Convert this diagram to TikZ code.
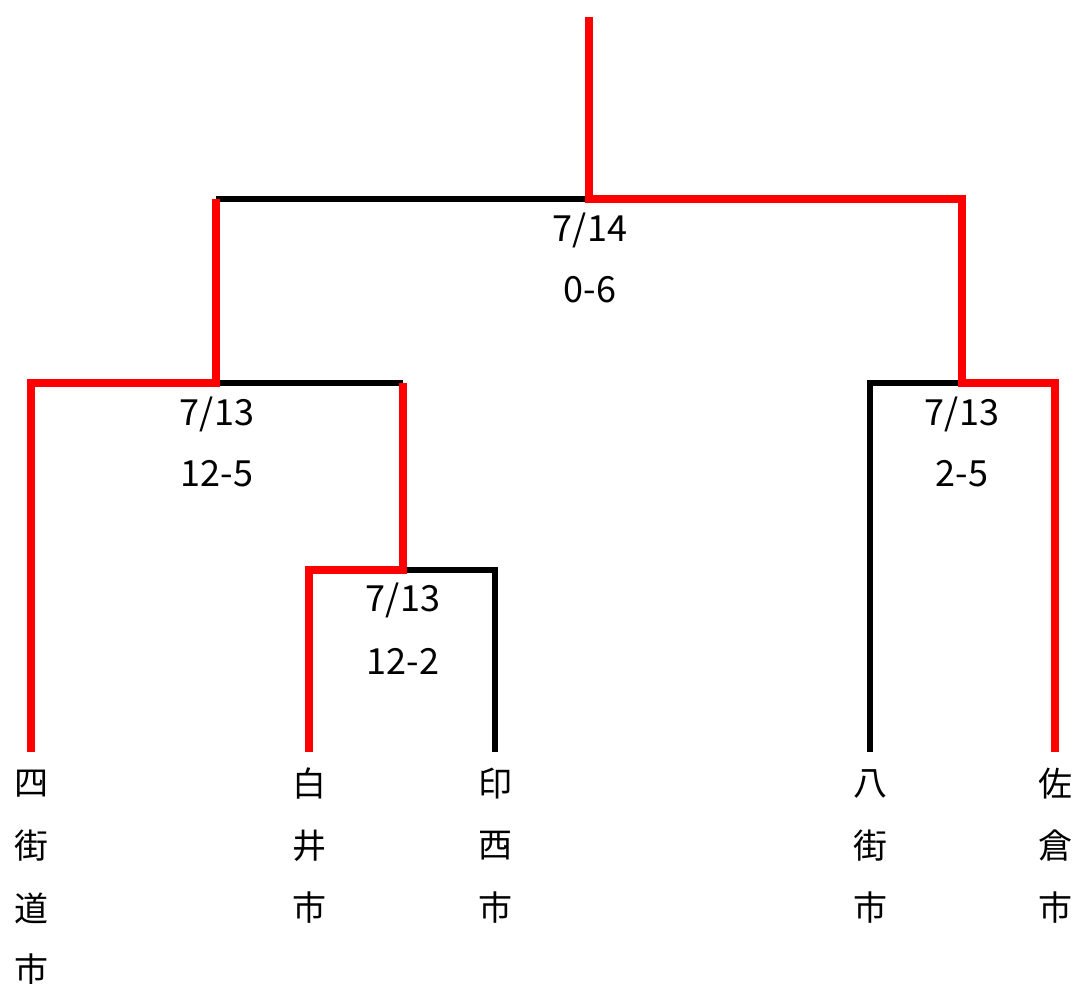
\documentclass[tikz,border=0pt]{standalone}
\usepackage{fontspec}
\setmainfont{Noto Sans CJK JP}
\begin{document}
\begin{tikzpicture}[x=1pt,y=-1pt,
  win/.style={draw=red,line width=8pt,line join=miter},
  lose/.style={draw=black,line width=6pt},
  score/.style={font=\fontsize{36}{40}\selectfont,inner sep=0pt,anchor=center},
  team/.style={font=\fontsize{34}{40}\selectfont,inner sep=0pt,anchor=center}]
\useasboundingbox (0,0) rectangle (1076,984);
% junctions
\coordinate (top) at (589,17);
\coordinate (root) at (589,199);
\coordinate (L1) at (216,199);
\coordinate (R1) at (962,199);
\coordinate (L1b) at (216,383);
\coordinate (A) at (31,383);
\coordinate (B) at (403,383);
\coordinate (R1b) at (962,383);
\coordinate (C) at (870,383);
\coordinate (D) at (1055,383);
\coordinate (Bb) at (403,570);
\coordinate (E) at (309,570);
\coordinate (F) at (495,570);
\coordinate (Ae) at (31,752);
\coordinate (Ee) at (309,752);
\coordinate (Fe) at (495,752);
\coordinate (Ce) at (870,752);
\coordinate (De) at (1055,752);
% losing lines
\draw[lose] (root) -- (L1);
\draw[lose] (L1b) -- (B);
\draw[lose] (Bb) -- (F) -- (Fe);
\draw[lose] (R1b) -- (C) -- (Ce);
% winning lines
\draw[win] (top) -- (root) -- (R1) -- (R1b) -- (D) -- (De);
\draw[win] (L1) -- (L1b) -- (A) -- (Ae);
\draw[win] (B) -- (Bb) -- (E) -- (Ee);
% scores
\node[score] (s1a) at (590,230) {7/14};
\node[score] (s1b) at (590,290) {0-6};
\node[score] (s2a) at (217,414) {7/13};
\node[score] (s2b) at (217,474) {12-5};
\node[score] (s3a) at (403,600) {7/13};
\node[score] (s3b) at (403,661) {12-2};
\node[score] (s4a) at (962,414) {7/13};
\node[score] (s4b) at (962,474) {2-5};
% teams
\foreach \ch [count=\i] in {四,街,道,市}
  \node[team] (t1\i) at (31,{784+(\i-1)*62}) {\ch};
\foreach \ch [count=\i] in {白,井,市}
  \node[team] (t2\i) at (309,{784+(\i-1)*62}) {\ch};
\foreach \ch [count=\i] in {印,西,市}
  \node[team] (t3\i) at (495,{784+(\i-1)*62}) {\ch};
\foreach \ch [count=\i] in {八,街,市}
  \node[team] (t4\i) at (870,{784+(\i-1)*62}) {\ch};
\foreach \ch [count=\i] in {佐,倉,市}
  \node[team] (t5\i) at (1055,{784+(\i-1)*62}) {\ch};
\end{tikzpicture}
\end{document}
